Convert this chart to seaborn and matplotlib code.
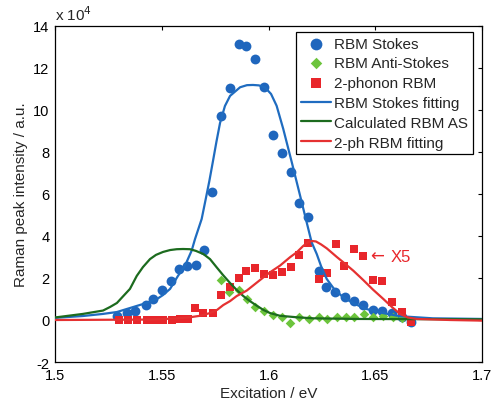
import matplotlib
matplotlib.use("Agg")
import matplotlib.pyplot as plt
import seaborn as sns
import pandas as pd

# ---- data (intensity in units of 1e4) ----
stokes_x = [1.5289, 1.5336, 1.5377, 1.5424, 1.5460, 1.5500, 1.5542, 1.5579, 1.5620, 1.5660,
            1.5697, 1.5735, 1.5777, 1.5818, 1.5861, 1.5896, 1.5937, 1.5980, 1.6022, 1.6065,
            1.6105, 1.6144, 1.6186, 1.6237, 1.6269, 1.6311, 1.6358, 1.6402, 1.6444, 1.6488,
            1.6530, 1.6577, 1.6624, 1.6666]
stokes_y = [0.20, 0.31, 0.45, 0.70, 1.02, 1.44, 1.87, 2.43, 2.59, 2.64,
            3.34, 6.11, 9.73, 11.03, 13.14, 13.06, 12.43, 11.08, 8.81, 7.94,
            7.03, 5.56, 4.92, 2.35, 1.56, 1.35, 1.08, 0.92, 0.71, 0.49,
            0.44, 0.32, 0.13, -0.08]

anti_x = [1.5778, 1.5817, 1.5860, 1.5897, 1.5937, 1.5978, 1.6019, 1.6063, 1.6103, 1.6145,
          1.6191, 1.6237, 1.6276, 1.6320, 1.6363, 1.6401, 1.6447, 1.6488, 1.6535, 1.6582,
          1.6624]
anti_y = [1.90, 1.32, 1.42, 1.02, 0.64, 0.44, 0.22, 0.12, -0.15, 0.12,
          0.03, 0.15, 0.05, 0.14, 0.15, 0.12, 0.29, 0.13, 0.18, 0.13,
          0.10]

twoph_x = [1.5301, 1.5343, 1.5385, 1.5430, 1.5468, 1.5507, 1.5547, 1.5585, 1.5622, 1.5656,
           1.5695, 1.5739, 1.5776, 1.5820, 1.5860, 1.5896, 1.5935, 1.5980, 1.6021, 1.6065,
           1.6104, 1.6144, 1.6186, 1.6238, 1.6273, 1.6314, 1.6355, 1.6400, 1.6444, 1.6488,
           1.6530, 1.6577, 1.6624, 1.6666]
twoph_y = [0.00, 0.00, 0.00, 0.00, 0.00, 0.00, 0.00, 0.05, 0.05, 0.56,
           0.33, 0.33, 1.19, 1.56, 1.98, 2.35, 2.46, 2.19, 2.14, 2.30,
           2.51, 3.08, 3.65, 1.97, 2.24, 3.62, 2.59, 3.40, 3.06, 1.92,
           1.87, 0.84, 0.40, -0.08]

fit_stokes_x = [1.5000, 1.5131, 1.5225, 1.5290, 1.5351, 1.5412, 1.5478, 1.5506, 1.5539, 1.5576,
                1.5609, 1.5640, 1.5656, 1.5687, 1.5705, 1.5723, 1.5740, 1.5756, 1.5773, 1.5796,
                1.5820, 1.5867, 1.5899, 1.5927, 1.5955, 1.5984, 1.6012, 1.6038, 1.6069, 1.6109,
                1.6148, 1.6171, 1.6202, 1.6226, 1.6246, 1.6273, 1.6307, 1.6350, 1.6405, 1.6460,
                1.6536, 1.6616, 1.6770, 1.7000]
fit_stokes_y = [0.10, 0.19, 0.29, 0.38, 0.57, 0.76, 1.00, 1.19, 1.48, 2.10,
                2.59, 3.30, 3.86, 4.81, 5.71, 6.62, 7.57, 8.48, 9.38, 10.19,
                10.67, 11.08, 11.18, 11.19, 11.17, 11.07, 10.76, 10.20, 9.10, 7.51,
                5.92, 4.97, 3.70, 3.14, 2.57, 1.95, 1.48, 1.08, 0.76, 0.52,
                0.33, 0.18, 0.08, 0.05]

calc_as_x = [1.5000, 1.5131, 1.5225, 1.5258, 1.5290, 1.5320, 1.5351, 1.5383, 1.5412, 1.5445,
             1.5473, 1.5506, 1.5539, 1.5570, 1.5600, 1.5632, 1.5660, 1.5695, 1.5726, 1.5757,
             1.5787, 1.5820, 1.5851, 1.5882, 1.5913, 1.5945, 1.5976, 1.6007, 1.6054, 1.6132,
             1.6210, 1.6413, 1.7000]
calc_as_y = [0.12, 0.29, 0.45, 0.62, 0.81, 1.14, 1.48, 2.10, 2.52, 2.90,
             3.10, 3.24, 3.33, 3.37, 3.38, 3.37, 3.29, 3.14, 2.90, 2.51,
             2.14, 1.76, 1.43, 1.14, 0.90, 0.68, 0.48, 0.33, 0.20, 0.13,
             0.08, 0.05, 0.03]

fit_2ph_x = [1.5000, 1.5445, 1.5562, 1.5632, 1.5679, 1.5726, 1.5759, 1.5788, 1.5820, 1.5851,
             1.5898, 1.5913, 1.5976, 1.6007, 1.6054, 1.6101, 1.6132, 1.6162, 1.6186, 1.6204,
             1.6222, 1.6246, 1.6273, 1.6320, 1.6350, 1.6397, 1.6444, 1.6489, 1.6538, 1.6578,
             1.6616, 1.6653, 1.6694, 1.6850, 1.7000]
fit_2ph_y = [0.00, 0.02, 0.07, 0.13, 0.20, 0.33, 0.48, 0.71, 0.90, 1.14,
             1.40, 1.52, 2.03, 2.27, 2.59, 2.99, 3.22, 3.52, 3.71, 3.76,
             3.74, 3.60, 3.41, 3.00, 2.75, 2.35, 1.90, 1.45, 1.00, 0.62,
             0.29, 0.12, 0.05, 0.00, -0.03]

x_ticks = [1.5, 1.55, 1.6, 1.65, 1.7]
x_tick_labels = ["1.5", "1.55", "1.6", "1.65", "1.7"]
y_ticks = [-2, 0, 2, 4, 6, 8, 10, 12, 14]

# ---- style ----
sns.set_style("white")
plt.rcParams['font.family'] = ['Liberation Sans', 'DejaVu Sans']
plt.rcParams['axes.unicode_minus'] = False

BLUE_M = "#1f66bd"
GREEN_M = "#6cc43c"
RED_M = "#e8262b"
BLUE_L = "#1f6cc0"
GREEN_L = "#1c6b1e"
RED_L = "#e53131"

fig = plt.figure(figsize=(5.0, 4.02), dpi=100)
ax = fig.add_axes([0.11, 0.097, 0.854, 0.836])

sns.scatterplot(x=stokes_x, y=stokes_y, ax=ax, marker='o', s=50, color=BLUE_M,
                edgecolor=BLUE_M, linewidth=0, label="RBM Stokes", zorder=3)
sns.scatterplot(x=anti_x, y=anti_y, ax=ax, marker='D', s=24, color=GREEN_M,
                edgecolor=GREEN_M, linewidth=0, label="RBM Anti-Stokes", zorder=3)
sns.scatterplot(x=twoph_x, y=twoph_y, ax=ax, marker='s', s=30, color=RED_M,
                edgecolor=RED_M, linewidth=0, label="2-phonon RBM", zorder=3)

sns.lineplot(x=fit_stokes_x, y=fit_stokes_y, ax=ax, color=BLUE_L, linewidth=1.6,
             label="RBM Stokes fitting", zorder=4)
sns.lineplot(x=calc_as_x, y=calc_as_y, ax=ax, color=GREEN_L, linewidth=1.6,
             label="Calculated RBM AS", zorder=4)
sns.lineplot(x=fit_2ph_x, y=fit_2ph_y, ax=ax, color=RED_L, linewidth=1.6,
             label="2-ph RBM fitting", zorder=4)

ax.set_xlim(1.5, 1.7)
ax.set_ylim(-2, 14)
ax.set_xticks(x_ticks)
ax.set_xticklabels(x_tick_labels)
ax.set_yticks(y_ticks)
ax.tick_params(direction='in', length=3, width=0.8, top=True, right=True,
               labelsize=10.5, colors='black', pad=4)
for sp in ax.spines.values():
    sp.set_color('black')
    sp.set_linewidth(0.9)

ax.set_xlabel("Excitation / eV", fontsize=11, labelpad=3)
ax.set_ylabel("Raman peak intensity / a.u.", fontsize=11, labelpad=4)

ax.text(0.0, 1.008, r"x 10$^{4}$", transform=ax.transAxes, ha='left', va='bottom',
        fontsize=11)
ax.text(1.6478, 3.05, "\u2190", color=RED_M, fontsize=12, ha='left', va='center',
        family=['DejaVu Sans'])
ax.text(1.6570, 3.03, "X5", color=RED_M, fontsize=12, ha='left', va='center',
        family=['Liberation Sans', 'DejaVu Sans'])

handles, labels = ax.get_legend_handles_labels()
leg = ax.legend(handles, labels, loc='upper right', bbox_to_anchor=(0.979, 0.982),
                fontsize=11, frameon=True, fancybox=False, framealpha=1,
                edgecolor='black', borderpad=0.3, labelspacing=0.38,
                handlelength=2.0, handletextpad=0.2, borderaxespad=0.0,
                markerscale=1.2)
leg.get_frame().set_linewidth(0.9)

fig.savefig("out.png", dpi=100)
